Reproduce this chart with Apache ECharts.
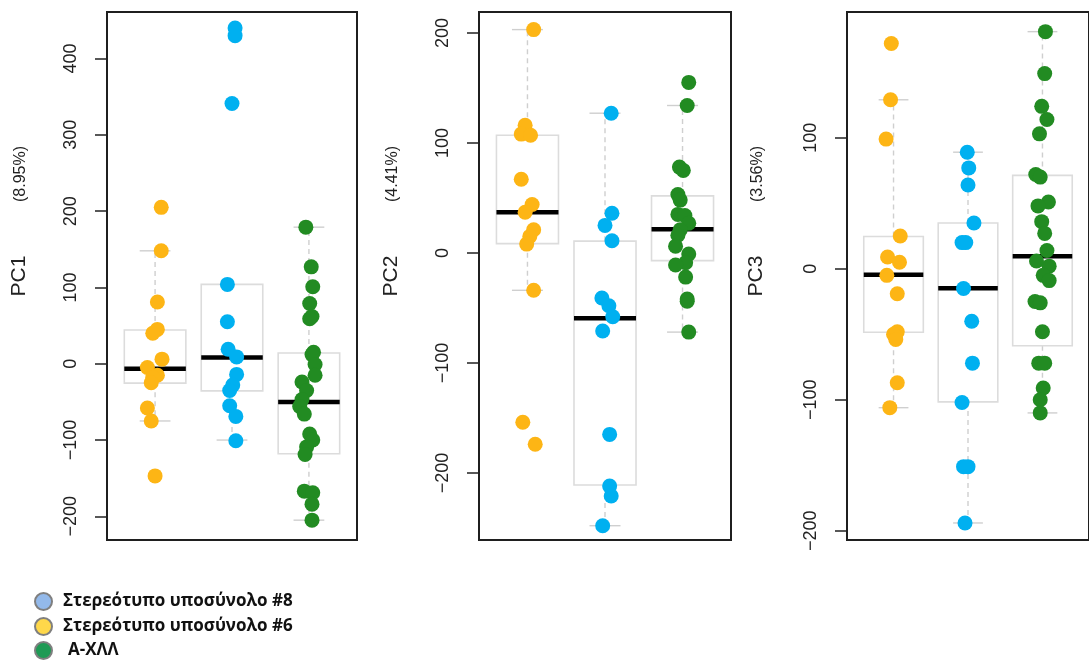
<!DOCTYPE html>
<html>
<head>
<meta charset="utf-8">
<script src="https://cdn.jsdelivr.net/npm/echarts@6/dist/echarts.min.js"></script>
<style>
  html, body { margin: 0; padding: 0; background: #ffffff; }
  #chart { width: 1089px; height: 664px; }
</style>
</head>
<body>
<div id="chart"></div>
<script>
// Groups, left to right inside each panel
const groupNames = ['Στερεότυπο υποσύνολο #6', 'Στερεότυπο υποσύνολο #8', 'Α-ΧΛΛ'];
const legendOrder = ['Στερεότυπο υποσύνολο #8', 'Στερεότυπο υποσύνολο #6', 'Α-ΧΛΛ'];
const panelTitles = ['PC1', 'PC2', 'PC3'];
const panelVariance = ['(8.95%)', '(4.41%)', '(3.56%)'];

// Tick values per panel
const pc1Ticks = [-200, -100, 0, 100, 200, 300, 400];
const pc2Ticks = [-200, -100, 0, 100, 200];
const pc3Ticks = [-200, -100, 0, 100];

// Axis extents per panel
const pc1Range = [-231, 461];
const pc2Range = [-261, 219];
const pc3Range = [-207, 196];

// Box statistics per group: [lower whisker, Q1, median, Q3, upper whisker]
const pc1Box = [[-75, -25.4, -6.5, 44.3, 148], [-100, -35.6, 8.3, 104, 104], [-205, -118, -50.3, 14, 179]];
const pc2Box = [[-34, 8.4, 37, 107, 203], [-248, -211, -59.5, 10.7, 127], [-72, -7, 21.4, 51.8, 134]];
const pc3Box = [[-106, -48.4, -4.6, 24.6, 129], [-194, -101.6, -14.8, 35, 89], [-110, -58.7, 9.6, 71.3, 181]];

// Sample scores and their horizontal jitter (in group units)
const pc1G6 = [205, 148, 81, 45, 40, 6, -5, -15, -18, -25, -58, -75, -147];
const pc1G6Jit = [0.08, 0.08, 0.03, 0.03, -0.03, 0.09, -0.10, 0.03, -0.03, -0.05, -0.10, -0.05, 0];
const pc1G8 = [440, 430, 341, 104, 55, 19, 9, -14, -28, -35, -55, -69, -101];
const pc1G8Jit = [0.04, 0.04, 0, -0.06, -0.06, -0.05, 0.06, 0.06, 0.01, -0.03, -0.03, 0.05, 0.05];
const pc1All = [179, 127, 101, 79, 62, 59, 15, 12, -1, -15, -24, -35, -47, -56, -66, -92, -100, -109, -119, -167, -169, -184, -205];
const pc1AllJit = [-0.04, 0.03, 0.05, 0.01, 0.04, 0.01, 0.06, 0.04, 0.08, 0.08, -0.09, -0.03, -0.09, -0.12, -0.06, 0.01, 0.05, -0.03, -0.05, -0.06, 0.05, 0.04, 0.04];

const pc2G6 = [203, 116, 108, 107, 67, 44, 37, 21, 15, 8, -34, -154, -174];
const pc2G6Jit = [0.08, -0.03, -0.08, 0.04, -0.08, 0.06, -0.03, 0.08, 0.03, -0.01, 0.08, -0.06, 0.10];
const pc2G8 = [127, 36, 25, 11, -41, -48, -58, -71, -165, -212, -221, -248];
const pc2G8Jit = [0.08, 0.09, 0, 0.09, -0.04, 0.05, 0.10, -0.03, 0.06, 0.06, 0.08, -0.03];
const pc2All = [155, 134, 78, 75, 53, 48, 35, 34, 27, 21, 16, 6, -1, -9, -11, -22, -42, -44, -72];
const pc2AllJit = [0.08, 0.06, -0.04, 0.01, -0.06, -0.03, -0.06, 0.03, 0.08, -0.03, -0.06, -0.09, 0.08, 0.04, -0.09, 0.04, 0.06, 0.06, 0.08];

const pc3G6 = [172, 129, 99, 25, 9, 5, -5, -19, -48, -50, -54, -87, -106];
const pc3G6Jit = [-0.03, -0.04, -0.10, 0.09, -0.08, 0.08, -0.09, 0.05, 0.05, 0, 0.03, 0.05, -0.05];
const pc3G8 = [89, 77, 64, 35, 20, 20, -15, -40, -72, -102, -151, -151, -194];
const pc3G8Jit = [-0.01, 0.01, 0, 0.08, -0.08, -0.03, -0.06, 0.05, 0.06, -0.08, -0.06, 0, -0.04];
const pc3All = [181, 149, 124, 114, 103, 72, 70, 51, 48, 36, 27, 14, 6, 2, -5, -9, -25, -26, -48, -72, -72, -91, -100, -110];
const pc3AllJit = [0.04, 0.03, -0.01, 0.06, -0.04, -0.09, -0.03, 0.08, -0.06, -0.01, 0.03, 0.06, -0.08, 0.09, 0.01, 0.09, -0.10, -0.03, 0, -0.05, 0.03, 0.01, -0.03, -0.03];

const groupColors = ['#FDB515', '#00B0F0', '#228B22'];
const legendColors = {
  'Στερεότυπο υποσύνολο #8': '#93B9EA',
  'Στερεότυπο υποσύνολο #6': '#FFD84A',
  'Α-ΧΛΛ': '#1F9A55'
};

const panels = [
  { ticks: pc1Ticks, range: pc1Range, box: pc1Box, pts: [[pc1G6, pc1G6Jit], [pc1G8, pc1G8Jit], [pc1All, pc1AllJit]],
    grid: { left: 107, top: 12, width: 250, height: 528 }, titleX: 19, varX: 21 },
  { ticks: pc2Ticks, range: pc2Range, box: pc2Box, pts: [[pc2G6, pc2G6Jit], [pc2G8, pc2G8Jit], [pc2All, pc2AllJit]],
    grid: { left: 479, top: 12, width: 252, height: 528 }, titleX: 391, varX: 393 },
  { ticks: pc3Ticks, range: pc3Range, box: pc3Box, pts: [[pc3G6, pc3G6Jit], [pc3G8, pc3G8Jit], [pc3All, pc3AllJit]],
    grid: { left: 847, top: 12, width: 248, height: 528 }, titleX: 756, varX: 758 }
];

const FONT = 'Liberation Sans, Arial, sans-serif';

// Box, whiskers, staples and median drawn in data coordinates
function renderBox(params, api) {
  const x = api.value(0);
  const lw = api.value(1), q1 = api.value(2), med = api.value(3), q3 = api.value(4), uw = api.value(5);
  const unit = api.size([1, 0])[0];
  const half = unit * 0.4, staple = unit * 0.2;
  const cx = api.coord([x, 0])[0];
  const py = v => api.coord([x, v])[1];
  const whisker = { stroke: '#cfcfcf', lineWidth: 1.4, lineDash: [5, 4] };
  const capStyle = { stroke: '#cfcfcf', lineWidth: 1.4 };
  const children = [];
  if (uw > q3) {
    children.push({ type: 'line', shape: { x1: cx, y1: py(q3), x2: cx, y2: py(uw) }, style: whisker });
    children.push({ type: 'line', shape: { x1: cx - staple, y1: py(uw), x2: cx + staple, y2: py(uw) }, style: capStyle });
  }
  if (lw < q1) {
    children.push({ type: 'line', shape: { x1: cx, y1: py(q1), x2: cx, y2: py(lw) }, style: whisker });
    children.push({ type: 'line', shape: { x1: cx - staple, y1: py(lw), x2: cx + staple, y2: py(lw) }, style: capStyle });
  }
  children.push({ type: 'rect', shape: { x: cx - half, y: py(q3), width: half * 2, height: py(q1) - py(q3) },
    style: { fill: 'rgba(255,255,255,0)', stroke: '#dcdcdc', lineWidth: 1.6 } });
  children.push({ type: 'line', shape: { x1: cx - half, y1: py(med), x2: cx + half, y2: py(med) },
    style: { stroke: '#000000', lineWidth: 4.5 } });
  return { type: 'group', children: children };
}

const grids = [], xAxes = [], yAxes = [], series = [], graphics = [];

panels.forEach((p, i) => {
  grids.push(Object.assign({ show: true, borderColor: '#1f1f1f', borderWidth: 2, backgroundColor: 'transparent' }, p.grid));
  xAxes.push({ type: 'value', gridIndex: i, min: 0.375, max: 3.625, show: false });
  yAxes.push({
    type: 'value', gridIndex: i, min: p.range[0], max: p.range[1],
    splitLine: { show: false },
    axisLine: { show: false },
    axisTick: { show: true, length: 12, customValues: p.ticks, lineStyle: { color: '#222', width: 1.5 } },
    axisLabel: {
      customValues: p.ticks, rotate: 90, margin: 27, fontSize: 18, fontFamily: FONT, color: '#222',
      formatter: v => String(v).replace('-', '\u2212')
    }
  });
  series.push({
    type: 'custom', xAxisIndex: i, yAxisIndex: i, z: 2, silent: true,
    renderItem: renderBox,
    data: p.box.map((b, g) => [g + 1].concat(b))
  });
  p.pts.forEach(([vals, jit], g) => {
    series.push({
      type: 'scatter', name: groupNames[g], xAxisIndex: i, yAxisIndex: i, z: 3,
      symbolSize: 15, itemStyle: { color: groupColors[g], opacity: 1 },
      data: vals.map((v, k) => [g + 1 + jit[k], v])
    });
  });
  const midY = p.grid.top + p.grid.height / 2;
  graphics.push({
    type: 'text', x: p.titleX, y: midY, rotation: Math.PI / 2,
    style: { text: panelTitles[i], font: '21px ' + FONT, fill: '#222', textAlign: 'center', textVerticalAlign: 'middle' }
  });
  graphics.push({
    type: 'text', x: p.varX, y: 174, rotation: Math.PI / 2,
    style: { text: panelVariance[i], font: '16px ' + FONT, fill: '#222', textAlign: 'center', textVerticalAlign: 'middle' }
  });
});

// One legend block per row so the three entries stack in a single column
const legendTops = [592, 617, 641];
const legends = legendOrder.map((n, r) => ({
  orient: 'vertical', left: 34, top: legendTops[r], padding: 0, itemWidth: 17, itemHeight: 17,
  icon: 'circle', selectedMode: false,
  textStyle: { fontFamily: 'Open Sans, sans-serif', fontWeight: 'bold', fontSize: 17, color: '#111',
    padding: n === 'Α-ΧΛΛ' ? [0, 0, 0, 11] : [0, 0, 0, 6] },
  data: [{ name: n, itemStyle: { color: legendColors[n], borderColor: '#7f7f7f', borderWidth: 2 } }]
}));

const chart = echarts.init(document.getElementById('chart'), null, { renderer: 'canvas' });
chart.setOption({
  animation: false,
  backgroundColor: '#ffffff',
  grid: grids,
  xAxis: xAxes,
  yAxis: yAxes,
  series: series,
  graphic: graphics,
  legend: legends
});
</script>
</body>
</html>
